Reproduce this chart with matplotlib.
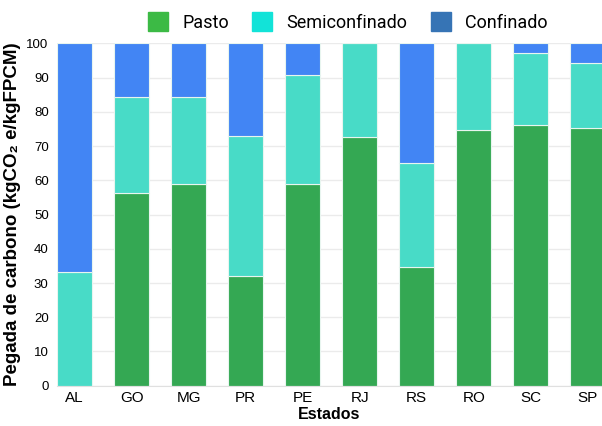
import matplotlib.pyplot as plt
from matplotlib.patches import Patch
import numpy as np

estados = ['AL', 'GO', 'MG', 'PR', 'PE', 'RJ', 'RS', 'RO', 'SC', 'SP']
pasto = [0, 56.2, 58.8, 32.0, 58.9, 72.6, 34.6, 74.8, 76.2, 75.3]
semiconfinado = [33.2, 28.1, 25.5, 41.1, 32.0, 27.4, 30.4, 25.2, 21.1, 18.9]
confinado = [66.8, 15.7, 15.7, 26.9, 9.1, 0, 35.0, 0, 2.7, 5.8]

plt.rcParams['font.family'] = ['Liberation Sans', 'DejaVu Sans']

fig = plt.figure(figsize=(6.02, 4.26), dpi=100)
ax = fig.add_axes([0.0947, 0.0946, 0.9053, 0.8034])

x = np.arange(len(estados))
w = 0.62
edge = dict(edgecolor='#e8f5ef', linewidth=0.8)
ax.bar(x, pasto, w, color='#34a853', zorder=2, **edge)
ax.bar(x, semiconfinado, w, bottom=pasto, color='#48dbc7', zorder=2, **edge)
bottom2 = [p + s for p, s in zip(pasto, semiconfinado)]
ax.bar(x, confinado, w, bottom=bottom2, color='#4285f4', zorder=2, **edge)

ax.set_xlim(-0.31, 9.25)
ax.set_ylim(0, 100)
ax.set_yticks(range(0, 101, 10))
ax.set_xticks(x)
ax.set_xticklabels(estados, fontsize=11)
ax.tick_params(axis='y', labelsize=9.5, length=0, pad=6)
ax.tick_params(axis='x', length=0, pad=4)
ax.grid(axis='y', color='#ebebeb', linewidth=1, zorder=0)
for s in ['top', 'right', 'left']:
    ax.spines[s].set_visible(False)
ax.spines['bottom'].set_color('#e0e0e0')

ax.set_xlabel('Estados', fontsize=11.5, fontweight='bold', labelpad=1)
ax.set_ylabel('Pegada de carbono (kgCO₂ e/kgFPCM)', fontsize=13.5,
              fontweight='bold', labelpad=4)

handles = [Patch(color='#3cba45'), Patch(color='#12e3d8'), Patch(color='#3674b5')]
fig.legend(handles, ['Pasto', 'Semiconfinado', 'Confinado'], loc='center',
           bbox_to_anchor=(0.578, 0.948), ncol=3, frameon=False,
           prop={'family': 'Roboto', 'size': 13}, handlelength=1.1,
           handleheight=1.2, handletextpad=0.8, columnspacing=1.3)

fig.savefig('out.png', dpi=100)
